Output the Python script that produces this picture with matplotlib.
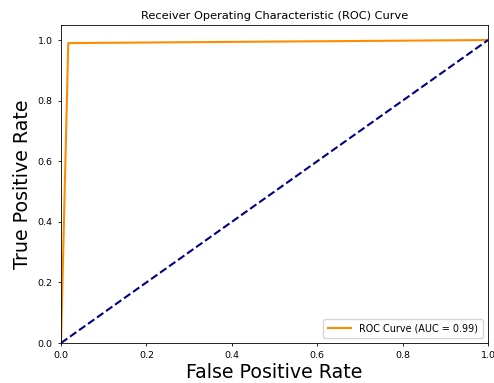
import matplotlib
matplotlib.use("Agg")
import matplotlib.pyplot as plt
import numpy as np

# ROC points from the classifier
fpr = [0.0, 0.017, 1.0]
tpr = [0.0, 0.99, 1.0]
roc_auc = 0.99

fig, ax = plt.subplots(figsize=(4.94, 3.83), dpi=100)
ax.plot(fpr, tpr, color='darkorange', lw=1.5, label='ROC Curve (AUC = %0.2f)' % roc_auc)
ax.plot([0, 1], [0, 1], color='navy', lw=1.5, linestyle='--')
ax.set_xlim([0.0, 1.0])
ax.set_ylim([0.0, 1.05])
ax.set_xlabel('False Positive Rate', fontsize=13.7, labelpad=2)
ax.set_ylabel('True Positive Rate', fontsize=13.7, labelpad=4)
ax.set_title('Receiver Operating Characteristic (ROC) Curve', fontsize=8.2, pad=4)
ax.tick_params(labelsize=6.8, length=2.5, width=0.6)
ax.legend(loc='lower right', fontsize=6.9, handlelength=2.4, handletextpad=0.9,
          borderpad=0.5)
for s in ax.spines.values():
    s.set_linewidth(0.6)
fig.subplots_adjust(left=0.1235, right=0.988, top=0.935, bottom=0.1044)
fig.savefig('out.png')
